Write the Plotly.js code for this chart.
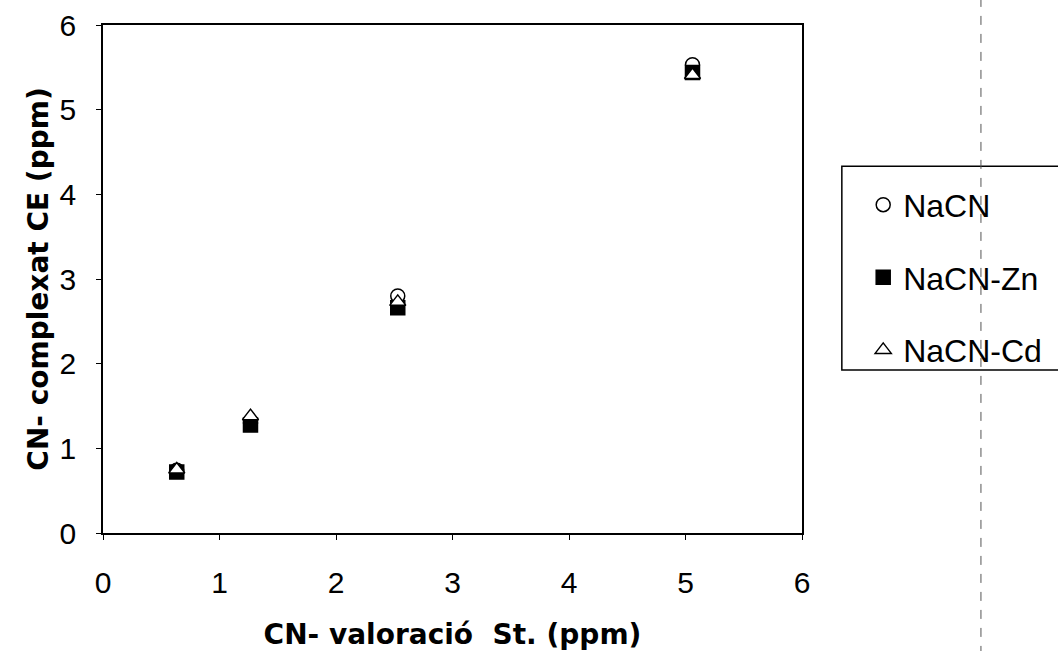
<!DOCTYPE html>
<html><head><meta charset="utf-8">
<script src="https://cdn.plot.ly/plotly-3.0.1.min.js"></script>
<style>html,body{margin:0;padding:0;background:#fff}#c{width:1058px;height:651px}</style>
</head><body><div id="c"></div>
<script>
const xVals = [0.633, 1.266, 2.53, 5.06];
const naCN = [0.74, 1.30, 2.80, 5.53];
const naCNZn = [0.72, 1.275, 2.66, 5.44];
const naCNCd = [0.75, 1.38, 2.73, 5.41];
const names = ["NaCN", "NaCN-Zn", "NaCN-Cd"];

const mk = (sym, fill) => ({symbol: sym, size: 14, color: fill, line: {color: '#000', width: 1.5}});
const traces = [
  {x: xVals, y: naCN, name: names[0], mode: 'markers', type: 'scatter', legendgroup: 'a', marker: mk('circle', '#fff')},
  {x: xVals, y: naCNZn, name: names[1], mode: 'markers', type: 'scatter', legendgroup: 'b', marker: mk('square', '#000')},
  {x: xVals, y: naCNCd, name: names[2], mode: 'markers', type: 'scatter', legendgroup: 'c', marker: mk('triangle-up', '#fff')}
];
const fam = 'Liberation Sans, Arial, sans-serif';
const tfam = 'DejaVu Sans, Liberation Sans, sans-serif';
const layout = {
  width: 1058, height: 651,
  margin: {l: 103, r: 255, t: 25, b: 118},
  paper_bgcolor: '#fff', plot_bgcolor: '#fff',
  font: {family: fam, color: '#000'},
  showlegend: true,
  legend: {x: 1.086, xanchor: 'left', y: 0.70, yanchor: 'top', borderwidth: 0,
    bgcolor: 'rgba(0,0,0,0)', font: {family: fam, size: 32, color: '#000'}, tracegroupgap: 28, itemwidth: 30},
  xaxis: {range: [0, 6], dtick: 1, showgrid: false, zeroline: false, showline: true, linecolor: '#000', linewidth: 1.5,
    mirror: true, ticks: 'outside', ticklen: 5, tickcolor: '#000', ticklabelstandoff: 17,
    tickfont: {family: fam, size: 30},
    title: {text: '<b>CN- valoració  St. (ppm)</b>', font: {family: tfam, size: 28}, standoff: 30}},
  yaxis: {range: [0, 6], dtick: 1, showgrid: false, zeroline: false, showline: true, linecolor: '#000', linewidth: 1.5,
    mirror: true, ticks: 'outside', ticklen: 5, tickcolor: '#000', ticklabelstandoff: 14,
    tickfont: {family: fam, size: 30},
    title: {text: '<b>CN- complexat CE (ppm)</b>', font: {family: tfam, size: 28}, standoff: 3}},
  shapes: [
    {type: 'rect', xref: 'paper', yref: 'paper', x0: 1.057, x1: 1.45, y0: 0.321, y1: 0.722,
      line: {color: '#000', width: 1.5}, fillcolor: 'rgba(0,0,0,0)', layer: 'above'},
    {type: 'line', xref: 'paper', yref: 'paper', x0: 1.256, x1: 1.256, y0: -0.24, y1: 1.05,
      line: {color: '#555', width: 1, dash: 'dash'}}
  ]
};
Plotly.newPlot('c', traces, layout, {displayModeBar: false});
</script></body></html>
